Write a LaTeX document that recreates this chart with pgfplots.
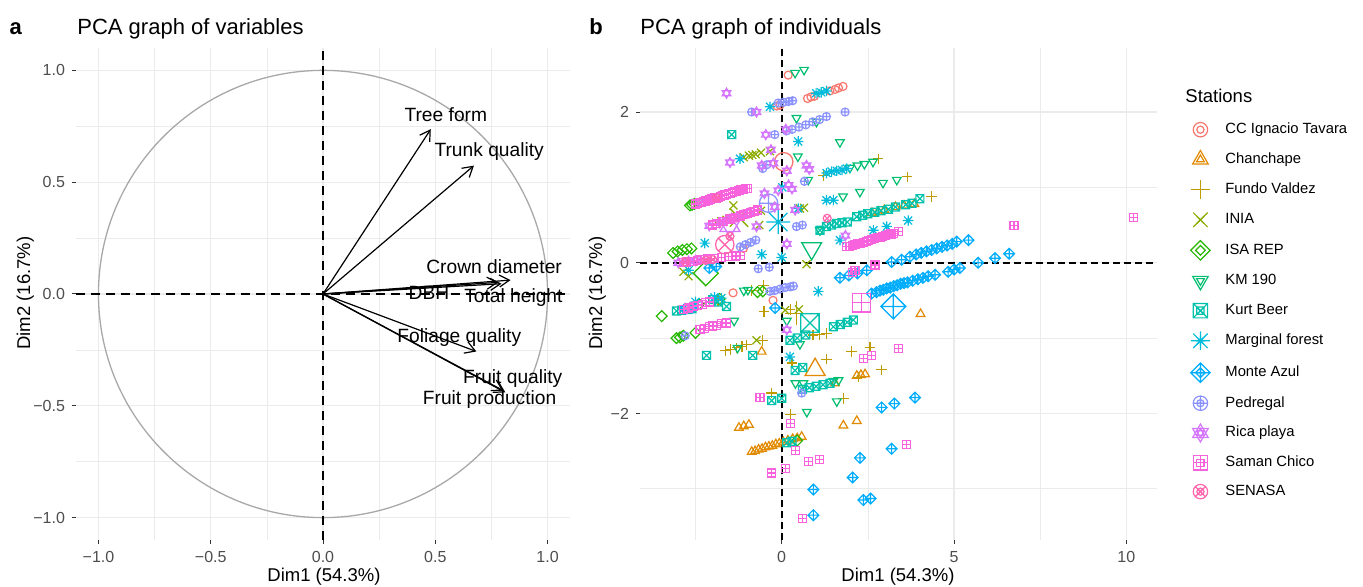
\documentclass[border=0pt]{standalone}
\usepackage{fontspec}
\setmainfont{Liberation Sans}
\usepackage{pgfplots}
\pgfplotsset{compat=1.18}
\usetikzlibrary{arrows.meta}

\definecolor{c1}{HTML}{F8766D}
\definecolor{c2}{HTML}{E18A00}
\definecolor{c3}{HTML}{BE9C00}
\definecolor{c4}{HTML}{8CAB00}
\definecolor{c5}{HTML}{24B700}
\definecolor{c6}{HTML}{00BE70}
\definecolor{c7}{HTML}{00C1AB}
\definecolor{c8}{HTML}{00BBDA}
\definecolor{c9}{HTML}{00ACFC}
\definecolor{c10}{HTML}{8B93FF}
\definecolor{c11}{HTML}{D575FE}
\definecolor{c12}{HTML}{F962DD}
\definecolor{c13}{HTML}{FF65AC}
\definecolor{gridc}{HTML}{EBEBEB}
\definecolor{tickc}{HTML}{4D4D4D}
\definecolor{circc}{HTML}{A8A8A8}

% R-like plotting symbols
\pgfdeclareplotmark{rcirc}{\pgfpathcircle{\pgfpointorigin}{\pgfplotmarksize}\pgfusepathqstroke}
\pgfdeclareplotmark{rtriup}{%
 \pgfpathmoveto{\pgfqpoint{0pt}{1.25\pgfplotmarksize}}%
 \pgfpathlineto{\pgfqpoint{1.08\pgfplotmarksize}{-0.62\pgfplotmarksize}}%
 \pgfpathlineto{\pgfqpoint{-1.08\pgfplotmarksize}{-0.62\pgfplotmarksize}}%
 \pgfpathclose\pgfusepathqstroke}
\pgfdeclareplotmark{rtridown}{%
 \pgfpathmoveto{\pgfqpoint{0pt}{-1.25\pgfplotmarksize}}%
 \pgfpathlineto{\pgfqpoint{1.08\pgfplotmarksize}{0.62\pgfplotmarksize}}%
 \pgfpathlineto{\pgfqpoint{-1.08\pgfplotmarksize}{0.62\pgfplotmarksize}}%
 \pgfpathclose\pgfusepathqstroke}
\pgfdeclareplotmark{rhex}{%
 \pgfpathmoveto{\pgfqpoint{0pt}{1.25\pgfplotmarksize}}%
 \pgfpathlineto{\pgfqpoint{1.08\pgfplotmarksize}{-0.62\pgfplotmarksize}}%
 \pgfpathlineto{\pgfqpoint{-1.08\pgfplotmarksize}{-0.62\pgfplotmarksize}}%
 \pgfpathclose
 \pgfpathmoveto{\pgfqpoint{0pt}{-1.25\pgfplotmarksize}}%
 \pgfpathlineto{\pgfqpoint{1.08\pgfplotmarksize}{0.62\pgfplotmarksize}}%
 \pgfpathlineto{\pgfqpoint{-1.08\pgfplotmarksize}{0.62\pgfplotmarksize}}%
 \pgfpathclose\pgfusepathqstroke}
\pgfdeclareplotmark{rplus}{%
 \pgfpathmoveto{\pgfqpoint{-1.3\pgfplotmarksize}{0pt}}\pgfpathlineto{\pgfqpoint{1.3\pgfplotmarksize}{0pt}}%
 \pgfpathmoveto{\pgfqpoint{0pt}{-1.3\pgfplotmarksize}}\pgfpathlineto{\pgfqpoint{0pt}{1.3\pgfplotmarksize}}%
 \pgfusepathqstroke}
\pgfdeclareplotmark{rx}{%
 \pgfpathmoveto{\pgfqpoint{-\pgfplotmarksize}{-\pgfplotmarksize}}\pgfpathlineto{\pgfqpoint{\pgfplotmarksize}{\pgfplotmarksize}}%
 \pgfpathmoveto{\pgfqpoint{-\pgfplotmarksize}{\pgfplotmarksize}}\pgfpathlineto{\pgfqpoint{\pgfplotmarksize}{-\pgfplotmarksize}}%
 \pgfusepathqstroke}
\pgfdeclareplotmark{rast}{%
 \pgfpathmoveto{\pgfqpoint{-\pgfplotmarksize}{-\pgfplotmarksize}}\pgfpathlineto{\pgfqpoint{\pgfplotmarksize}{\pgfplotmarksize}}%
 \pgfpathmoveto{\pgfqpoint{-\pgfplotmarksize}{\pgfplotmarksize}}\pgfpathlineto{\pgfqpoint{\pgfplotmarksize}{-\pgfplotmarksize}}%
 \pgfpathmoveto{\pgfqpoint{-1.3\pgfplotmarksize}{0pt}}\pgfpathlineto{\pgfqpoint{1.3\pgfplotmarksize}{0pt}}%
 \pgfpathmoveto{\pgfqpoint{0pt}{-1.3\pgfplotmarksize}}\pgfpathlineto{\pgfqpoint{0pt}{1.3\pgfplotmarksize}}%
 \pgfusepathqstroke}
\pgfdeclareplotmark{rdiamond}{%
 \pgfpathmoveto{\pgfqpoint{0pt}{1.35\pgfplotmarksize}}%
 \pgfpathlineto{\pgfqpoint{1.35\pgfplotmarksize}{0pt}}%
 \pgfpathlineto{\pgfqpoint{0pt}{-1.35\pgfplotmarksize}}%
 \pgfpathlineto{\pgfqpoint{-1.35\pgfplotmarksize}{0pt}}%
 \pgfpathclose\pgfusepathqstroke}
\pgfdeclareplotmark{rdiamondplus}{%
 \pgfpathmoveto{\pgfqpoint{0pt}{1.35\pgfplotmarksize}}%
 \pgfpathlineto{\pgfqpoint{1.35\pgfplotmarksize}{0pt}}%
 \pgfpathlineto{\pgfqpoint{0pt}{-1.35\pgfplotmarksize}}%
 \pgfpathlineto{\pgfqpoint{-1.35\pgfplotmarksize}{0pt}}%
 \pgfpathclose
 \pgfpathmoveto{\pgfqpoint{-1.35\pgfplotmarksize}{0pt}}\pgfpathlineto{\pgfqpoint{1.35\pgfplotmarksize}{0pt}}%
 \pgfpathmoveto{\pgfqpoint{0pt}{-1.35\pgfplotmarksize}}\pgfpathlineto{\pgfqpoint{0pt}{1.35\pgfplotmarksize}}%
 \pgfusepathqstroke}
\pgfdeclareplotmark{rsqx}{%
 \pgfpathrectangle{\pgfqpoint{-\pgfplotmarksize}{-\pgfplotmarksize}}{\pgfqpoint{2\pgfplotmarksize}{2\pgfplotmarksize}}%
 \pgfpathmoveto{\pgfqpoint{-\pgfplotmarksize}{-\pgfplotmarksize}}\pgfpathlineto{\pgfqpoint{\pgfplotmarksize}{\pgfplotmarksize}}%
 \pgfpathmoveto{\pgfqpoint{-\pgfplotmarksize}{\pgfplotmarksize}}\pgfpathlineto{\pgfqpoint{\pgfplotmarksize}{-\pgfplotmarksize}}%
 \pgfusepathqstroke}
\pgfdeclareplotmark{rsqplus}{%
 \pgfpathrectangle{\pgfqpoint{-\pgfplotmarksize}{-\pgfplotmarksize}}{\pgfqpoint{2\pgfplotmarksize}{2\pgfplotmarksize}}%
 \pgfpathmoveto{\pgfqpoint{-\pgfplotmarksize}{0pt}}\pgfpathlineto{\pgfqpoint{\pgfplotmarksize}{0pt}}%
 \pgfpathmoveto{\pgfqpoint{0pt}{-\pgfplotmarksize}}\pgfpathlineto{\pgfqpoint{0pt}{\pgfplotmarksize}}%
 \pgfusepathqstroke}
\pgfdeclareplotmark{roplus}{%
 \pgfpathcircle{\pgfpointorigin}{\pgfplotmarksize}%
 \pgfpathmoveto{\pgfqpoint{-\pgfplotmarksize}{0pt}}\pgfpathlineto{\pgfqpoint{\pgfplotmarksize}{0pt}}%
 \pgfpathmoveto{\pgfqpoint{0pt}{-\pgfplotmarksize}}\pgfpathlineto{\pgfqpoint{0pt}{\pgfplotmarksize}}%
 \pgfusepathqstroke}
\pgfdeclareplotmark{rotimes}{%
 \pgfpathcircle{\pgfpointorigin}{\pgfplotmarksize}%
 \pgfpathmoveto{\pgfqpoint{-0.707\pgfplotmarksize}{-0.707\pgfplotmarksize}}\pgfpathlineto{\pgfqpoint{0.707\pgfplotmarksize}{0.707\pgfplotmarksize}}%
 \pgfpathmoveto{\pgfqpoint{-0.707\pgfplotmarksize}{0.707\pgfplotmarksize}}\pgfpathlineto{\pgfqpoint{0.707\pgfplotmarksize}{-0.707\pgfplotmarksize}}%
 \pgfusepathqstroke}

\pgfplotsset{
  rpanel/.style={
    scale only axis,
    axis line style={draw=none},
    tick align=outside, tick pos=left,
    major tick length=2pt, minor tick length=0pt,
    tick style={color=black!80, line width=0.5pt},
    grid=both,
    major grid style={gridc, line width=0.55pt},
    minor grid style={gridc, line width=0.3pt},
    ticklabel style={font=\fontsize{8}{9}\selectfont, text=tickc},
    label style={font=\fontsize{9.25}{11}\selectfont},
  },
  pt/.style={only marks, mark size=2.0pt, mark options={line width=0.6pt}},
  big/.style={only marks, mark size=4.6pt, forget plot, mark options={line width=0.65pt}},
}

\begin{document}
\begin{tikzpicture}
\useasboundingbox (0,0) rectangle (681.5pt,293.5pt);

% ---------------- panel a ----------------
\begin{axis}[rpanel,
  at={(38pt,23.5pt)}, anchor=south west,
  width=247pt, height=246pt,
  xmin=-1.1, xmax=1.1, ymin=-1.1, ymax=1.1,
  xtick={-1,-0.5,0,0.5,1}, ytick={-1,-0.5,0,0.5,1},
  xticklabels={−1.0,−0.5,0.0,0.5,1.0},
  yticklabels={−1.0,−0.5,0.0,0.5,1.0},
  minor xtick={-0.75,-0.25,0.25,0.75},
  minor ytick={-0.75,-0.25,0.25,0.75},
  clip=false,
]
\draw[circc, line width=0.65pt] (axis cs:0,0) ellipse [x radius=1, y radius=1];
\draw[black, line width=0.8pt, dash pattern=on 4.5pt off 3pt] (axis cs:-1.1,0) -- (axis cs:1.1,0);
\draw[black, line width=0.8pt, dash pattern=on 4.5pt off 3pt] (axis cs:0,-1.1) -- (axis cs:0,1.1);
\addplot[black, line width=0.6pt, quiver={u=\thisrow{u},v=\thisrow{v}},
  -{Straight Barb[length=5pt,width=6pt]}] table {
x y u v
0 0 0.480 0.737
0 0 0.672 0.574
0 0 0.835 0.062
0 0 0.780 0.052
0 0 0.795 0.046
0 0 0.683 -0.257
0 0 0.812 -0.440
0 0 0.803 -0.432
};
\begin{scope}[every node/.style={font=\fontsize{9.6}{11}\selectfont, inner sep=0pt}]
\node at (axis cs:0.547,0.800) {Tree form};
\node at (axis cs:0.740,0.637) {Trunk quality};
\node at (axis cs:0.762,0.124) {Crown diameter};
\node at (axis cs:0.472,0.005) {DBH};
\node at (axis cs:0.848,-0.018) {Total height};
\node at (axis cs:0.607,-0.194) {Foliage quality};
\node at (axis cs:0.845,-0.378) {Fruit quality};
\node at (axis cs:0.742,-0.470) {Fruit production};
\end{scope}
\end{axis}

% ---------------- panel b ----------------
\begin{axis}[rpanel,
  at={(320pt,23.5pt)}, anchor=south west,
  width=258.5pt, height=246pt,
  xmin=-4.11, xmax=10.89, ymin=-3.68, ymax=2.85,
  xtick={0,5,10}, ytick={-2,0,2},
  xticklabels={0,5,10}, yticklabels={−2,0,2},
  minor xtick={-2.5,2.5,7.5}, minor ytick={-3,-1,1},
  legend cell align=left,
  legend image code/.code={%
    \path[draw=none,fill=none] (-6pt,-4pt) rectangle (12.5pt,4pt);
    \draw[mark size=1.8pt] plot coordinates {(0pt,0pt)};
    \draw[mark size=3.6pt] plot coordinates {(0pt,0pt)};},
  legend style={at={(1.06,0.851)}, anchor=north west, draw=none, fill=none,
    inner sep=0pt, row sep=6.4pt,
    nodes={inner xsep=0pt, inner ysep=0pt, text height=5.3pt, text depth=1.5pt,
      font=\fontsize{7.4}{8.5}\selectfont}},
]
% CC Ignacio Tavara
\addplot[pt, c1, mark=rcirc] coordinates {(0.19,2.49) (0.75,2.18) (0.85,2.20) (0.95,2.21) (1.40,2.28) (1.55,2.30) (1.65,2.32) (1.78,2.34) (-0.14,2.08) (-0.05,2.09) (-1.11,0.19) (-1.41,-0.40) (-0.25,-0.50)};
\addlegendentry{CC Ignacio Tavara}
\addplot[big, c1, mark=rcirc] coordinates {(0.06,1.34)};
% Chanchape
\addplot[pt, c2, mark=rtriup] coordinates {(-0.87,-2.51) (-0.77,-2.50) (-0.67,-2.48) (-0.57,-2.47) (-0.47,-2.45) (-0.37,-2.44) (-0.27,-2.43) (-0.17,-2.41) (-0.07,-2.40) (0.05,-2.38) (0.18,-2.36) (0.32,-2.34) (0.45,-2.33) (0.58,-2.31) (-1.24,-2.19) (-1.10,-2.17) (-0.95,-2.15) (1.79,-2.16) (2.18,-2.10) (2.18,-1.50) (2.30,-1.49) (2.42,-1.48) (4.03,-0.68) (-0.58,-1.18) (1.55,-1.60) (2.62,0.66) (2.80,0.68) (2.98,0.70) (3.30,0.74) (3.55,0.76) (3.85,0.78)};
\addlegendentry{Chanchape}
\addplot[big, c2, mark=rtriup] coordinates {(0.97,-1.42)};
% Fundo Valdez
\addplot[pt, c3, mark=rplus] coordinates {(1.21,1.16) (2.80,1.38) (3.64,1.14) (4.35,0.88) (-1.64,-1.17) (-1.48,-1.15) (-1.30,-1.13) (-1.15,-1.11) (-1.02,-1.09) (-0.55,-1.03) (-0.87,-0.37) (-0.53,-0.30) (-0.51,-0.65) (0.25,-0.62) (0.91,-0.96) (1.10,-0.95) (1.30,-0.94) (0.30,-1.33) (1.30,-1.28) (2.03,-1.18) (2.56,-1.12) (2.90,-1.42) (2.22,-1.52) (1.79,-1.80) (-0.29,-1.73) (0.26,-2.01) (-1.85,-0.50)};
\addlegendentry{Fundo Valdez}
\addplot[big, c3, mark=rplus] coordinates {(0.43,-0.67)};
% INIA
\addplot[pt, c4, mark=rx] coordinates {(-1.10,1.40) (-0.95,1.42) (-0.85,1.43) (-0.75,1.44) (-0.60,1.46) (-0.34,1.48) (-1.40,0.76) (-1.90,0.53) (-1.75,0.55) (-1.60,0.57) (-0.65,0.50) (-0.60,0.69) (0.53,0.72) (0.65,0.73) (0.72,-0.02) (-2.70,-0.18) (-2.85,-0.12) (-0.73,-1.03) (0.10,-0.63) (0.50,-0.62)};
\addlegendentry{INIA}
\addplot[big, c4, mark=rx] coordinates {(-1.24,0.60)};
% ISA REP
\addplot[pt, c5, mark=rdiamond] coordinates {(-2.66,0.76) (-2.60,0.77) (-2.53,0.78) (-3.15,0.13) (-3.02,0.15) (-2.88,0.17) (-2.75,0.18) (-2.62,0.19) (-3.48,-0.71) (-3.05,-1.00) (-2.95,-0.99) (-2.85,-0.97) (-2.50,-0.93) (-0.70,-0.39) (-0.55,-0.38) (-2.40,-0.55) (-1.80,-0.48) (0.45,-2.36)};
\addlegendentry{ISA REP}
\addplot[big, c5, mark=rdiamond] coordinates {(-2.20,-0.14)};
% KM 190
\addplot[pt, c6, mark=rtridown] coordinates {(0.39,2.52) (0.65,2.56) (0.43,1.92) (1.01,1.87) (1.69,1.60) (0.47,1.41) (0.77,1.10) (1.98,1.26) (2.20,1.29) (2.40,1.31) (2.65,1.34) (2.94,1.06) (3.34,1.10) (2.27,0.94) (1.78,0.88) (1.11,0.43) (-1.10,-0.37) (-0.98,-0.36) (-1.38,-0.77) (-1.28,-1.13) (0.15,-0.77) (0.53,-1.08) (0.40,-1.60) (0.63,-1.60) (1.50,-1.57) (1.65,-1.56) (1.60,-1.84) (0.73,-1.98)};
\addlegendentry{KM 190}
\addplot[big, c6, mark=rtridown] coordinates {(0.87,0.19)};
% Kurt Beer
\addplot[pt, c7, mark=rsqx] coordinates {(-1.45,1.70) (1.11,0.43) (1.30,0.48) (1.45,0.50) (1.60,0.52) (1.75,0.53) (1.90,0.54) (2.18,0.61) (2.35,0.63) (2.50,0.65) (2.70,0.67) (2.88,0.69) (3.10,0.71) (3.30,0.74) (3.60,0.77) (3.78,0.79) (4.01,0.85) (-3.05,-0.64) (-2.90,-0.63) (-2.75,-0.62) (-2.60,-0.61) (-2.00,-0.49) (-1.85,-0.52) (-1.60,-0.58) (-2.18,-1.23) (-0.84,-1.23) (0.24,-1.03) (0.45,-1.00) (0.70,-0.96) (1.50,-0.85) (1.70,-0.82) (1.90,-0.79) (2.08,-0.76) (0.39,-1.43) (0.61,-1.39) (0.60,-1.68) (0.80,-1.66) (1.00,-1.64) (1.20,-1.62) (1.40,-1.60) (-0.29,-1.83) (0.00,-1.80) (0.15,-2.39) (0.30,-2.37)};
\addlegendentry{Kurt Beer}
\addplot[big, c7, mark=rsqx] coordinates {(0.82,-0.80)};
% Marginal forest
\addplot[pt, c8, mark=rast] coordinates {(1.00,2.25) (1.15,2.26) (1.30,2.28) (-0.34,2.07) (0.48,1.61) (-1.21,1.38) (1.30,1.19) (1.45,1.21) (1.60,1.22) (1.75,1.23) (1.89,1.25) (0.02,1.00) (1.30,0.83) (1.50,0.83) (0.48,0.72) (1.69,0.30) (2.66,0.43) (3.05,0.48) (3.67,0.56) (-2.23,0.26) (-0.58,0.11) (0.00,0.07) (1.06,-0.38) (-1.95,-0.46) (-1.75,-0.47) (-2.70,-0.10) (0.24,-1.25) (-2.50,-0.52)};
\addlegendentry{Marginal forest}
\addplot[big, c8, mark=rast] coordinates {(-0.10,0.54)};
% Monte Azul
\addplot[pt, c9, mark=rdiamondplus] coordinates {(3.19,0.01) (3.48,0.04) (3.72,0.08) (3.90,0.11) (4.05,0.13) (4.20,0.15) (4.35,0.17) (4.50,0.19) (4.65,0.21) (4.80,0.23) (4.95,0.25) (5.08,0.28) (5.42,0.30) (5.70,0.00) (6.19,0.06) (6.60,0.12) (4.83,-0.12) (5.00,-0.09) (5.17,-0.07) (2.61,-0.41) (2.75,-0.39) (2.85,-0.37) (2.95,-0.36) (3.05,-0.34) (3.15,-0.33) (3.25,-0.31) (3.35,-0.30) (3.45,-0.28) (3.55,-0.27) (3.65,-0.26) (3.80,-0.24) (3.95,-0.22) (4.10,-0.20) (4.25,-0.18) (4.45,-0.16) (1.69,-0.20) (1.95,-0.17) (2.20,-0.14) (2.47,-0.10) (-0.19,-0.60) (0.92,-3.01) (0.92,-3.35) (2.27,-2.59) (2.06,-2.85) (2.37,-3.15) (2.58,-3.13) (3.19,-2.47) (2.90,-1.92) (3.27,-1.87) (3.87,-1.79) (-2.80,-0.61) (-2.60,-0.60) (-1.90,-0.05) (-2.10,-0.07)};
\addlegendentry{Monte Azul}
\addplot[big, c9, mark=rdiamondplus] coordinates {(3.24,-0.58)};
% Pedregal
\addplot[pt, c10, mark=roplus] coordinates {(-0.87,2.00) (-0.10,2.12) (0.05,2.13) (0.20,2.14) (0.32,2.15) (0.14,1.75) (0.30,1.77) (0.50,1.80) (0.70,1.83) (0.90,1.87) (1.10,1.90) (1.30,1.94) (1.84,2.00) (-0.20,1.70) (-0.43,1.30) (-0.55,1.25) (0.66,1.08) (0.43,0.48) (0.60,0.50) (-1.20,0.21) (-1.05,0.24) (-0.90,0.27) (-0.75,0.30) (-0.68,-0.08) (-0.36,-0.06) (-0.34,-0.38) (-0.20,-0.37) (-0.05,-0.35) (0.10,-0.33) (0.25,-0.32) (0.34,-0.31) (-2.37,0.80) (-2.80,-0.97) (0.58,-1.73)};
\addlegendentry{Pedregal}
\addplot[big, c10, mark=roplus] coordinates {(-0.38,0.79)};
% Rica playa
\addplot[pt, c11, mark=rhex] coordinates {(-1.60,2.25) (-0.73,2.00) (-0.46,1.70) (0.12,1.77) (-0.31,1.50) (-1.50,1.33) (-0.58,1.29) (-0.24,1.32) (0.15,1.22) (0.72,1.29) (0.20,1.03) (0.80,1.24) (-0.50,0.92) (-0.10,0.96) (0.30,0.98) (-0.20,0.74) (-0.73,0.48) (0.15,0.25) (0.15,-0.89) (-3.00,0.00) (-2.70,0.02) (-2.50,0.03) (1.85,0.36) (0.39,0.70) (-2.10,0.49) (-1.80,0.53) (-1.60,0.56) (-1.45,0.59) (-1.30,0.61) (-1.15,0.63) (-0.95,0.66)};
\addlegendentry{Rica playa}
\addplot[big, c11, mark=rhex] coordinates {(-1.50,0.49)};
% Saman Chico
\addplot[pt, c12, mark=rsqplus] coordinates {(-2.50,0.78) (-2.44,0.79) (-2.38,0.80) (-2.32,0.80) (-2.26,0.81) (-2.20,0.82) (-2.14,0.83) (-2.08,0.84) (-2.02,0.85) (-1.96,0.86) (-1.90,0.86) (-1.84,0.87) (-1.78,0.88) (-1.72,0.89) (-1.66,0.90) (-1.60,0.91) (-1.54,0.92) (-1.48,0.92) (-1.42,0.93) (-1.36,0.94) (-1.30,0.95) (-1.24,0.96) (-1.18,0.97) (-1.12,0.97) (-1.06,0.98) (-1.00,0.99)
 (-2.00,0.50) (-1.90,0.52) (-1.70,0.55) (-1.50,0.58) (-1.35,0.60) (-1.20,0.62) (-1.10,0.64) (-1.00,0.65) (-0.90,0.67) (-0.80,0.68) (-0.70,0.70)
 (-2.85,0.00) (-2.75,0.01) (-2.65,0.02) (-2.55,0.02) (-2.45,0.03) (-2.35,0.04) (-2.25,0.04) (-2.15,0.05) (-1.95,0.06) (-1.75,0.07) (-1.55,0.08) (-1.35,0.09) (-1.20,0.10)
 (-2.85,-0.62) (-2.70,-0.60) (-2.55,-0.58) (-2.45,-0.57) (-2.30,-0.55) (-2.20,-0.53) (-2.10,-0.52)
 (-2.37,-0.89) (-2.25,-0.87) (-2.10,-0.85) (-2.00,-0.84) (-1.90,-0.83) (-1.75,-0.81) (-1.60,-0.80)
 (1.89,0.21) (1.97,0.22) (2.05,0.23) (2.13,0.24) (2.21,0.25) (2.29,0.26) (2.37,0.27) (2.45,0.28) (2.53,0.30) (2.61,0.31) (2.69,0.32) (2.77,0.33) (2.85,0.34) (2.93,0.35) (3.01,0.36) (3.09,0.37) (3.17,0.38) (3.25,0.39) (3.38,0.41)
 (6.74,0.49) (10.20,0.60) (2.05,-0.13) (2.13,-0.10) (2.71,-0.03) (2.37,-1.27) (2.61,-1.23) (3.38,-1.14) (-0.63,-1.79) (0.26,-2.13) (0.39,-2.49) (0.77,-2.64) (1.09,-2.61) (-0.29,-2.79) (0.12,-2.73) (0.61,-3.39) (3.63,-2.41)};
\addlegendentry{Saman Chico}
\addplot[big, c12, mark=rsqplus] coordinates {(2.32,-0.53)};
% SENASA
\addplot[pt, c13, mark=rotimes] coordinates {(-1.50,0.35) (1.32,0.59) (-2.20,0.03) (-2.00,0.04) (-2.80,0.01) (-1.90,0.86)};
\addlegendentry{SENASA}
\addplot[big, c13, mark=rotimes] coordinates {(-1.65,0.24)};

\draw[black, line width=0.85pt, dash pattern=on 3.5pt off 2pt] (axis cs:-4.11,0) -- (axis cs:10.89,0);
\draw[black, line width=0.85pt, dash pattern=on 3.5pt off 2pt] (axis cs:0,-3.68) -- (axis cs:0,2.85);
\end{axis}

% ---------------- titles and labels ----------------
\node[anchor=base west, inner sep=0pt, font=\fontsize{11}{13}\selectfont\bfseries] at (4.6pt,276pt) {a};
\node[anchor=base west, inner sep=0pt, font=\fontsize{11}{13}\selectfont] at (38.5pt,276pt) {PCA graph of variables};
\node[anchor=base west, inner sep=0pt, font=\fontsize{11}{13}\selectfont\bfseries] at (294.5pt,276pt) {b};
\node[anchor=base west, inner sep=0pt, font=\fontsize{11}{13}\selectfont] at (320pt,276pt) {PCA graph of individuals};
\node[anchor=base, inner sep=0pt, font=\fontsize{9.25}{11}\selectfont] at (162pt,2.6pt) {Dim1 (54.3\%)};
\node[anchor=base, inner sep=0pt, font=\fontsize{9.25}{11}\selectfont] at (449pt,2.6pt) {Dim1 (54.3\%)};
\node[anchor=base, inner sep=0pt, rotate=90, font=\fontsize{9.25}{11}\selectfont] at (15pt,147pt) {Dim2 (16.7\%)};
\node[anchor=base, inner sep=0pt, rotate=90, font=\fontsize{9.25}{11}\selectfont] at (301pt,147pt) {Dim2 (16.7\%)};
\node[anchor=base west, inner sep=0pt, font=\fontsize{9.25}{11}\selectfont] at (592.5pt,242pt) {Stations};
\end{tikzpicture}
\end{document}
